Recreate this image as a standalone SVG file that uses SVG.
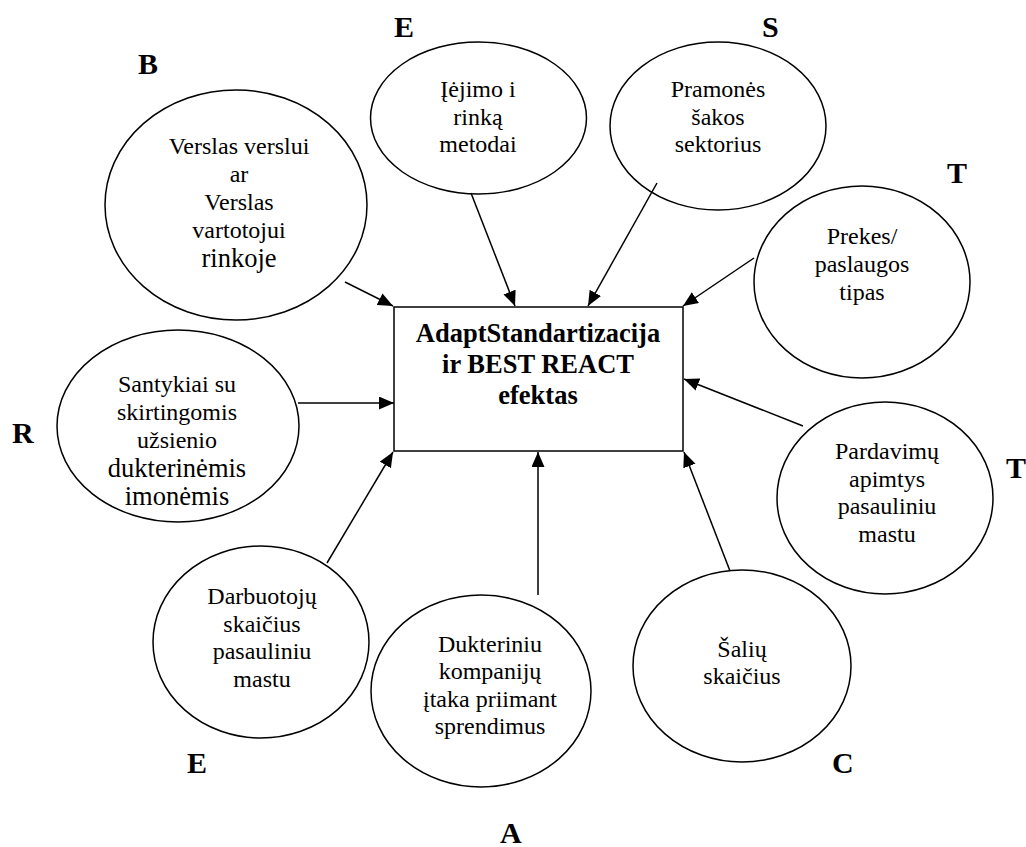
<svg xmlns="http://www.w3.org/2000/svg" width="1026" height="847" viewBox="0 0 1026 847">
  <style>
    .node { fill: #ffffff; stroke: #000000; stroke-width: 1.5; }
    .lbl { font-family: "Liberation Serif", "Times New Roman", serif; font-size: 24px; fill: #000000; text-anchor: middle; }
    .big { font-size: 26.5px; }
    .title { font-family: "Liberation Serif", "Times New Roman", serif; font-size: 26.5px; font-weight: bold; fill: #000000; text-anchor: middle; }
    .letter { font-family: "Liberation Serif", "Times New Roman", serif; font-size: 30px; font-weight: bold; fill: #000000; }
    .conn { stroke: #000000; stroke-width: 1.5; fill: none; marker-end: url(#arrow); }
  </style>
  <defs>
    <marker id="arrow" markerUnits="userSpaceOnUse" markerWidth="16" markerHeight="14" refX="15" refY="6.5" orient="auto">
      <path d="M0,0 L15,6.5 L0,13 z" fill="#000000"/>
    </marker>
  </defs>
  <rect width="1026" height="847" fill="#ffffff"/>

  <!-- centre box -->
  <g id="center">
    <rect class="node" x="394" y="307" width="289" height="144"/>
    <text class="title" x="538" y="342">AdaptStandartizacija</text>
    <text class="title" x="538" y="373">ir BEST REACT</text>
    <text class="title" x="538" y="404">efektas</text>
  </g>

  <g id="node-b2b">
    <ellipse class="node" cx="236" cy="205" rx="131" ry="115"/>
    <text class="lbl" x="239" y="154">Verslas verslui</text>
    <text class="lbl" x="239" y="182">ar</text>
    <text class="lbl" x="239" y="210">Verslas</text>
    <text class="lbl" x="239" y="238">vartotojui</text>
    <text class="lbl big" x="239" y="267">rinkoje</text>
  </g>

  <g id="node-entry">
    <ellipse class="node" cx="478.5" cy="118" rx="108" ry="76"/>
    <text class="lbl" x="478" y="97">Įėjimo i</text>
    <text class="lbl" x="478" y="125">rinką</text>
    <text class="lbl" x="478" y="152">metodai</text>
  </g>

  <g id="node-sector">
    <ellipse class="node" cx="718" cy="126" rx="108" ry="84"/>
    <text class="lbl" x="718" y="97">Pramonės</text>
    <text class="lbl" x="718" y="125">šakos</text>
    <text class="lbl" x="718" y="152">sektorius</text>
  </g>

  <g id="node-product">
    <ellipse class="node" cx="862" cy="282" rx="108" ry="96"/>
    <text class="lbl" x="862" y="244">Prekes/</text>
    <text class="lbl" x="862" y="272">paslaugos</text>
    <text class="lbl" x="862" y="300">tipas</text>
  </g>

  <g id="node-sales">
    <ellipse class="node" cx="885" cy="498" rx="108" ry="96"/>
    <text class="lbl" x="887" y="459">Pardavimų</text>
    <text class="lbl" x="887" y="487">apimtys</text>
    <text class="lbl" x="887" y="514">pasauliniu</text>
    <text class="lbl" x="887" y="542">mastu</text>
  </g>

  <g id="node-countries">
    <ellipse class="node" cx="742" cy="666" rx="109" ry="96"/>
    <text class="lbl" x="742" y="657">Šalių</text>
    <text class="lbl" x="742" y="684">skaičius</text>
  </g>

  <g id="node-subsidiaries">
    <ellipse class="node" cx="481" cy="691" rx="110" ry="96"/>
    <text class="lbl" x="490" y="652">Dukteriniu</text>
    <text class="lbl" x="490" y="679">kompanijų</text>
    <text class="lbl" x="490" y="707">įtaka priimant</text>
    <text class="lbl" x="490" y="734">sprendimus</text>
  </g>

  <g id="node-employees">
    <ellipse class="node" cx="261" cy="642" rx="108" ry="96"/>
    <text class="lbl" x="262" y="604">Darbuotojų</text>
    <text class="lbl" x="262" y="632">skaičius</text>
    <text class="lbl" x="262" y="659">pasauliniu</text>
    <text class="lbl" x="262" y="687">mastu</text>
  </g>

  <g id="node-relations">
    <ellipse class="node" cx="178" cy="426" rx="121" ry="96"/>
    <text class="lbl" x="177" y="392">Santykiai su</text>
    <text class="lbl" x="177" y="420">skirtingomis</text>
    <text class="lbl" x="177" y="448">užsienio</text>
    <text class="lbl big" x="177" y="477">dukterinėmis</text>
    <text class="lbl big" x="177" y="505">imonėmis</text>
  </g>

  <!-- arrows into the centre box -->
  <g id="connectors">
    <line class="conn" x1="345" y1="282" x2="393" y2="306"/>
    <line class="conn" x1="471" y1="193" x2="515" y2="306"/>
    <line class="conn" x1="657" y1="183" x2="588" y2="306"/>
    <line class="conn" x1="754" y1="258" x2="683" y2="306"/>
    <line class="conn" x1="803" y1="426" x2="684" y2="379"/>
    <line class="conn" x1="298" y1="403" x2="394" y2="403"/>
    <line class="conn" x1="327" y1="563" x2="393" y2="452"/>
    <line class="conn" x1="538" y1="595" x2="538" y2="452"/>
    <line class="conn" x1="730" y1="571" x2="684" y2="452"/>
  </g>

  <!-- BESTREACT letters -->
  <g id="letters">
    <text class="letter" x="138" y="74">B</text>
    <text class="letter" x="394" y="37">E</text>
    <text class="letter" x="762" y="37">S</text>
    <text class="letter" x="947" y="183">T</text>
    <text class="letter" x="12" y="443">R</text>
    <text class="letter" x="1006" y="478">T</text>
    <text class="letter" x="187" y="773">E</text>
    <text class="letter" x="832" y="773">C</text>
    <text class="letter" x="500" y="843">A</text>
  </g>
</svg>
